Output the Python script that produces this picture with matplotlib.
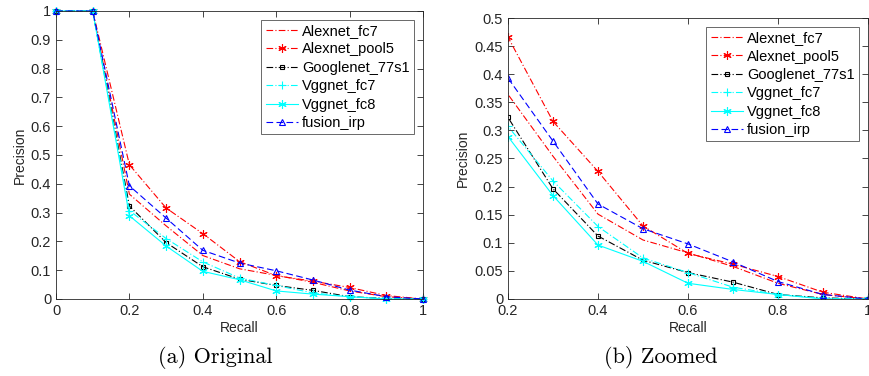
import numpy as np
import matplotlib
matplotlib.use("Agg")
import matplotlib.pyplot as plt
from matplotlib.ticker import FuncFormatter, MultipleLocator

plt.rcParams['font.family'] = ['Liberation Sans', 'DejaVu Sans']

recall = [0.0, 0.1, 0.2, 0.3, 0.4, 0.5, 0.6, 0.7, 0.8, 0.9, 1.0]
alexnet_fc7 = [1.0, 1.0, 0.364, 0.254, 0.151, 0.105, 0.082, 0.058, 0.028, 0.008, 0.0]
alexnet_pool5 = [1.0, 1.0, 0.466, 0.316, 0.227, 0.130, 0.081, 0.062, 0.040, 0.012, 0.0]
googlenet_77s1 = [1.0, 1.0, 0.323, 0.196, 0.112, 0.069, 0.047, 0.030, 0.008, 0.002, 0.0]
vggnet_fc7 = [1.0, 1.0, 0.307, 0.210, 0.129, 0.073, 0.047, 0.021, 0.008, 0.001, 0.0]
vggnet_fc8 = [1.0, 1.0, 0.289, 0.184, 0.096, 0.067, 0.028, 0.017, 0.008, 0.0, 0.0]
fusion_irp = [1.0, 1.0, 0.393, 0.281, 0.169, 0.125, 0.098, 0.066, 0.031, 0.008, 0.0]

labels = ['Alexnet_fc7', 'Alexnet_pool5', 'Googlenet_77s1', 'Vggnet_fc7', 'Vggnet_fc8', 'fusion_irp']
captions = ['(a) Original', '(b) Zoomed']

dashdot = (0, (6, 2, 1, 2))
asterisk = (6, 2, 0)
styles = [
    dict(color='red', linestyle=dashdot, marker=None),
    dict(color='red', linestyle=dashdot, marker=asterisk, markersize=6),
    dict(color='black', linestyle=dashdot, marker='s', markersize=3.5, markerfacecolor='none'),
    dict(color='cyan', linestyle=dashdot, marker='+', markersize=6),
    dict(color='cyan', linestyle='-', marker=asterisk, markersize=6),
    dict(color='blue', linestyle=(0, (6, 3)), marker='^', markersize=5, markerfacecolor='none'),
]
series = [alexnet_fc7, alexnet_pool5, googlenet_77s1, vggnet_fc7, vggnet_fc8, fusion_irp]

fig = plt.figure(figsize=(8.69, 3.76), dpi=100)
ax1 = fig.add_axes([56/869, 77/376, 367/869, 288/376])
ax2 = fig.add_axes([508/869, 77/376, 360/869, 281/376])

fmt = FuncFormatter(lambda v, p: ('%g' % round(v, 4)))
tc = '#262626'

for ax, clip in ((ax1, False), (ax2, True)):
    for ys, st, lab in zip(series, styles, labels):
        ax.plot(recall, ys, label=lab, linewidth=0.8, markeredgewidth=0.8, clip_on=clip, **st)
    ax.tick_params(direction='in', top=True, right=True, labelsize=10.5, colors=tc, length=4, width=0.6)
    for s in ax.spines.values():
        s.set_color(tc)
        s.set_linewidth(0.6)
    ax.xaxis.set_major_formatter(fmt)
    ax.yaxis.set_major_formatter(fmt)
    ax.set_xlabel('Recall', fontsize=10, color=tc, labelpad=2)
    ax.set_ylabel('Precision', fontsize=10, color=tc, labelpad=3)
    leg = ax.legend(loc='upper right', fontsize=10.5, frameon=True, fancybox=False,
                    edgecolor=tc, borderpad=0.3, labelspacing=0.3, handlelength=2.2,
                    handletextpad=0.3, borderaxespad=0.6)
    leg.get_frame().set_linewidth(0.6)

ax1.set_xlim(0, 1)
ax1.set_ylim(0, 1)
ax1.xaxis.set_major_locator(MultipleLocator(0.2))
ax1.yaxis.set_major_locator(MultipleLocator(0.1))

ax2.set_xlim(0.2, 1)
ax2.set_ylim(0, 0.5)
ax2.xaxis.set_major_locator(MultipleLocator(0.2))
ax2.yaxis.set_major_locator(MultipleLocator(0.05))

fig.text(215/869, 0.05, captions[0], ha='center', va='center', fontsize=16, family='cmr10')
fig.text(661/869, 0.05, captions[1], ha='center', va='center', fontsize=16, family='cmr10')

fig.savefig('out.png', dpi=100)
